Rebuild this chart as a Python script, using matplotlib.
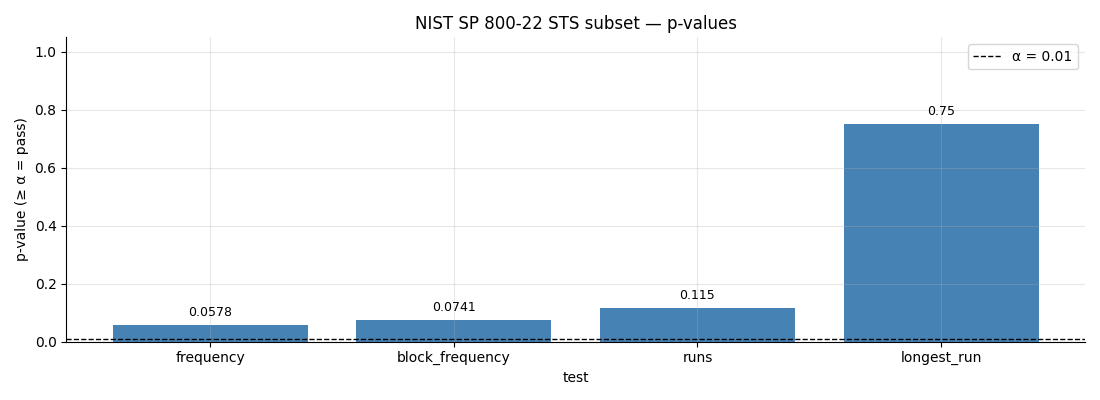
import matplotlib
matplotlib.use("Agg")
import matplotlib.pyplot as plt

tests = ["frequency", "block_frequency", "runs", "longest_run"]
p_values = [0.0578, 0.0741, 0.115, 0.75]
alpha = 0.01

fig, ax = plt.subplots(figsize=(11, 4), dpi=100)
ax.bar(tests, p_values, color="steelblue", width=0.8)
ax.axhline(alpha, color="black", linestyle="--", linewidth=1, label=f"α = {alpha}")

for i, p in enumerate(p_values):
    ax.text(i, p + 0.02, f"{p:.3g}", ha="center", va="bottom", fontsize=9)

ax.set_ylim(0, 1.05)
ax.set_xlabel("test")
ax.set_ylabel("p-value (≥ α = pass)")
ax.set_title("NIST SP 800-22 STS subset — p-values")
ax.grid(True, alpha=0.3)
ax.spines["top"].set_visible(False)
ax.spines["right"].set_visible(False)
ax.legend(loc="upper right")
fig.tight_layout()
fig.savefig("out.png")
